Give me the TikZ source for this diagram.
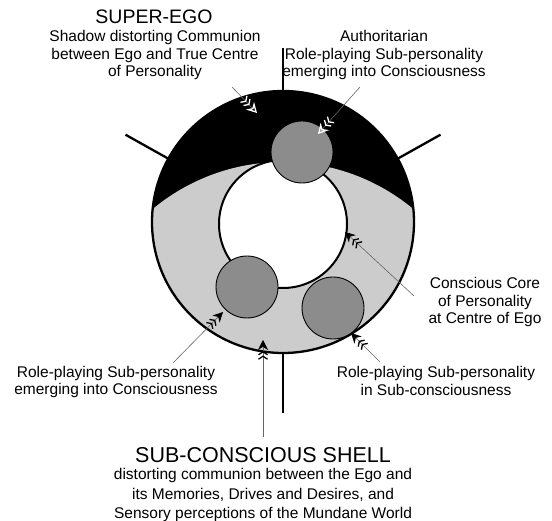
\documentclass[tikz,border=0pt]{standalone}
\usepackage{fontspec}
\setmainfont{Liberation Sans}
\usetikzlibrary{arrows.meta}

\tikzset{
  shellline/.style={line width=2.3pt, black},
  subpers/.style={fill=black!45, draw=black, line width=0.9pt},
  tick/.style={line width=2.3pt, black},
  txt/.style={font=\fontsize{15.5}{17.8}\selectfont, align=center, inner sep=0pt},
  bigtxt/.style={font=\fontsize{19.5}{22}\selectfont, inner sep=0pt},
  fletch/.style={draw=black!60, line width=0.6pt,
    -{Straight Barb[length=3pt,width=9pt,line width=1.3pt,color=black]
      Straight Barb[length=3pt,width=9pt,line width=1.3pt,color=black,sep=1pt]
      Stealth[length=10pt,width=10pt,color=black]}},
  fletchw/.style={draw=black!60, line width=0.6pt,
    -{Straight Barb[length=3pt,width=9pt,line width=1.3pt,color=white]
      Straight Barb[length=3pt,width=9pt,line width=1.3pt,color=white,sep=1pt]
      Stealth[length=10pt,width=11pt,open,line width=1.3pt,color=white]}}
}

\begin{document}
\begin{tikzpicture}[x=1pt, y=-1pt]
  \useasboundingbox (0,0) rectangle (552,521);

  % 1. shell: black super-ego cap over the light sub-conscious area
  \begin{scope}
    \clip (283,222) circle (131);
    \fill[black] (150,80) rectangle (420,360);
    \fill[black!20] (283,366) circle (204);
  \end{scope}

  % 2. conscious core and outer rim
  \fill[white] (283,224) circle (64);
  \draw[line width=2pt] (283,224) circle (64);
  \draw[shellline] (283,222) circle (131);

  % 3. the four ticks on the rim
  \draw[tick] (283,92) -- (283,48);
  \draw[tick] (283,353) -- (283,413);
  \draw[tick] (168,158.5) -- (125.5,134.7);
  \draw[tick] (398,158.5) -- (440.5,134.7);

  % 4. role-playing sub-personalities
  \draw[subpers] (302,152) circle (31);
  \draw[subpers] (247,287) circle (31);
  \draw[subpers] (333,308) circle (31);

  % 5. labels
  \node[bigtxt] (superego) at (154,17) {SUPER-EGO};
  \node[txt] (shadow) at (155,55) {Shadow distorting Communion\\between Ego and True Centre\\of Personality};
  \node[txt] (author) at (384,55) {Authoritarian\\Role-playing Sub-personality\\emerging into Consciousness};
  \node[txt] (core) at (485,302) {Conscious Core\\of Personality\\at Centre of Ego};
  \node[txt] (subcon) at (436,381) {Role-playing Sub-personality\\in Sub-consciousness};
  \node[txt] (emerge) at (116,382) {Role-playing Sub-personality\\emerging into Consciousness};
  \node[font=\fontsize{21.5}{24}\selectfont, inner sep=0pt] (shell) at (263,455) {SUB-CONSCIOUS SHELL};
  \node[font=\fontsize{15.5}{19.5}\selectfont, align=center, inner sep=0pt] (shelltxt) at (263,495)
    {distorting communion between the Ego and\\its Memories, Drives and Desires, and\\Sensory perceptions of the Mundane World};

  % 6. pointer ends
  \coordinate (shadowA) at (232,87);   \coordinate (shadowB) at (257,113);
  \coordinate (authorA) at (360,87);   \coordinate (authorB) at (318,134);
  \coordinate (coreA) at (414,296);    \coordinate (coreB) at (345,232);
  \coordinate (subconA) at (380,362);  \coordinate (subconB) at (351,333);
  \coordinate (emergeA) at (173,363);  \coordinate (emergeB) at (223,312);
  \coordinate (shellA) at (263,437);   \coordinate (shellB) at (263,340);

  % 7. fletched pointers
  \draw[fletchw] (shadowA) -- (shadowB);
  \draw[fletchw] (authorA) -- (authorB);
  \draw[fletch] (coreA) -- (coreB);
  \draw[fletch] (subconA) -- (subconB);
  \draw[fletch] (emergeA) -- (emergeB);
  \draw[fletch] (shellA) -- (shellB);
\end{tikzpicture}
\end{document}
